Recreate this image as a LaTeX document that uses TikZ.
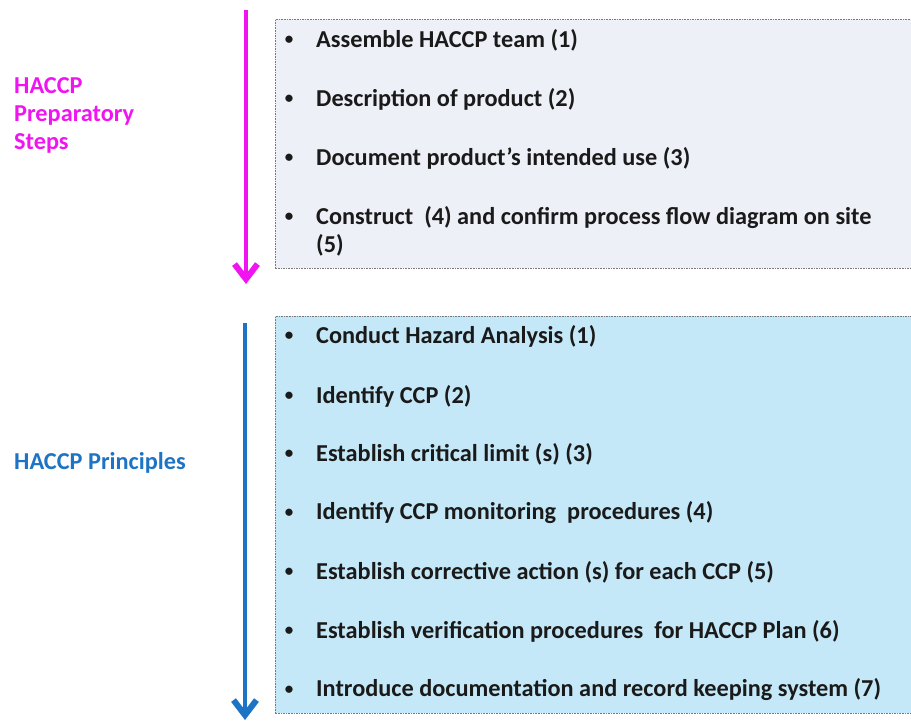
\documentclass[tikz,border=0pt]{standalone}
\usepackage{fontspec}
\setmainfont{Carlito}
\usetikzlibrary{arrows.meta,positioning}
\definecolor{PrepMagenta}{HTML}{F014F0}
\definecolor{PrinBlue}{HTML}{1E74C4}
\definecolor{PrepFill}{HTML}{EEF0F7}
\definecolor{PrinFill}{HTML}{C4E8F7}
\definecolor{EdgeGrey}{HTML}{7A7A7A}
\definecolor{InkDark}{HTML}{1A1A1A}

\begin{document}
\begin{tikzpicture}[x=1pt,y=-1pt,
  box/.style={draw=EdgeGrey,line width=.6pt,dash pattern=on 1.6pt off 1pt,anchor=north west,inner sep=0pt},
  dot/.style={text=InkDark,font=\fontsize{17}{20}\selectfont\bfseries,inner sep=0pt},
  itemtext/.style={anchor=west,text=InkDark,font=\fontsize{24.3}{28}\selectfont\bfseries,inner sep=0pt,align=left},
  sidelabel/.style={anchor=west,font=\fontsize{24.3}{28}\selectfont\bfseries,inner sep=0pt,align=left},
  flow/.style={line width=4pt,-{Straight Barb[length=15pt,width=23pt,line width=6pt]}}]
\useasboundingbox (0,0) rectangle (911,721);
% boxes
\node[box,fill=PrepFill,minimum width=645pt,minimum height=249pt] (prepbox) at (275,19) {};
\node[box,fill=PrinFill,minimum width=645pt,minimum height=397pt] (prinbox) at (275,316) {};
% side labels
\node[sidelabel,text=PrepMagenta] (preplabel) at (14,115) {HACCP\\Preparatory\\Steps};
\node[sidelabel,text=PrinBlue] (prinlabel) at (14,463) {HACCP Principles};
% arrows
\coordinate (preptop) at (246,10);
\coordinate (prepend) at (246,284);
\coordinate (printop) at (245,323);
\coordinate (prinend) at (245,720);
\draw[flow,PrepMagenta] (preptop) -- (prepend);
\draw[flow,PrinBlue] (printop) -- (prinend);
% preparatory steps
\foreach \y/\t [count=\i] in {40/Assemble HACCP team (1),99/Description of product (2),158/Document product’s intended use (3)}{
  \node[dot] (pb\i) at (289,\y) {\textbullet};
  \node[itemtext] (pt\i) at (316,\y) {\t};
}
\node[dot] (pb4) at (289,217) {\textbullet};
\node[itemtext] (pt4) at (316,231) {Construct\ \ (4) and confirm process flow diagram on site\\(5)};
% principles
\foreach \y/\t [count=\i] in {336/Conduct Hazard Analysis (1),396/Identify CCP (2),454/Establish critical limit (s) (3),513/Identify CCP monitoring\ \ procedures (4),572/Establish corrective action (s) for each CCP (5),631/Establish verification procedures\ \ for HACCP Plan (6),690/Introduce documentation and record keeping system (7)}{
  \node[dot] (qb\i) at (289,\y) {\textbullet};
  \node[itemtext] (qt\i) at (316,\y) {\t};
}
\end{tikzpicture}
\end{document}
